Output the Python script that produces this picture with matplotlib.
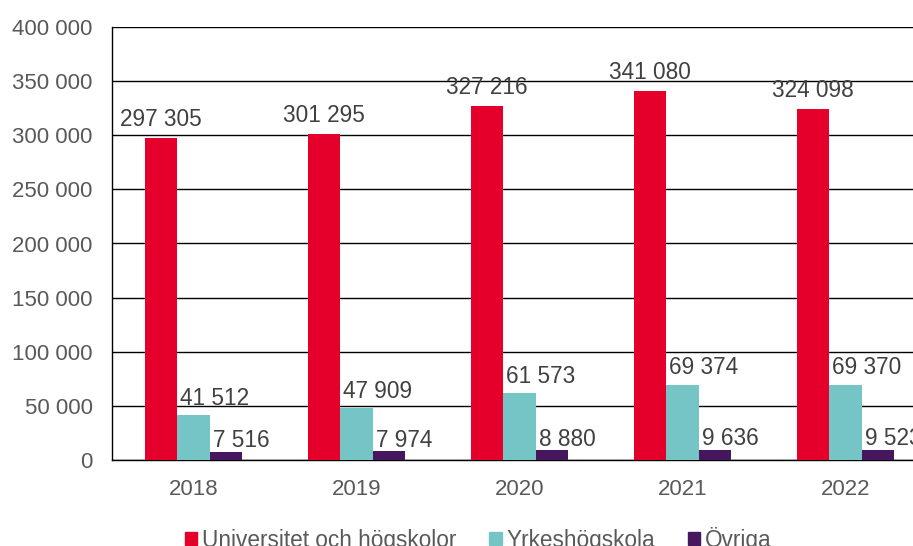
import matplotlib
matplotlib.use("Agg")
import matplotlib.pyplot as plt
from matplotlib.patches import Rectangle
import numpy as np

years = ["2018", "2019", "2020", "2021", "2022"]
univ = [297305, 301295, 327216, 341080, 324098]
yrkes = [41512, 47909, 61573, 69374, 69370]
ovriga = [7516, 7974, 8880, 9636, 9523]
series_names = ["Universitet och högskolor", "Yrkeshögskola", "Övriga"]
yticks = [0, 50000, 100000, 150000, 200000, 250000, 300000, 350000, 400000]

colors = ["#E4002B", "#76C5C6", "#46175E"]
text_color = "#595959"

plt.rcParams['font.family'] = ['Liberation Sans', 'DejaVu Sans']
plt.rcParams['font.size'] = 16

def fmt(v):
    return f"{v:,}".replace(",", " ")

fig = plt.figure(figsize=(9.13, 5.46), dpi=100)
W, H = 913, 546
left_px, right_px = 112, 112 + 5 * 163
top_px, bot_px = 27, 460
ax = fig.add_axes([left_px / W, (H - bot_px) / H, (right_px - left_px) / W, (bot_px - top_px) / H])

x = np.arange(len(years))
bw = 0.2
all_series = [univ, yrkes, ovriga]
offsets = [-bw, 0, bw]
label_dy = [8.5, 7.5, 3.5]
for s, vals in enumerate(all_series):
    ax.bar(x + offsets[s], vals, width=bw, color=colors[s], zorder=3)
    for i, v in enumerate(vals):
        if s == 0:
            ax.annotate(fmt(v), (x[i] + offsets[s], v), xytext=(0, label_dy[s]),
                        textcoords="offset points", ha="center", va="baseline",
                        color="#404040", fontsize=16.3)
        else:
            ax.annotate(fmt(v), (x[i] + offsets[s] - bw / 2, v), xytext=(2, label_dy[s]),
                        textcoords="offset points", ha="left", va="baseline",
                        color="#404040", fontsize=16.3)

ax.set_xlim(-0.5, len(years) - 0.5)
ax.set_ylim(0, 400000)
ax.set_yticks(yticks)
ax.set_yticklabels([fmt(v) for v in yticks], color=text_color)
ax.set_xticks(x)
ax.set_xticklabels(years, color=text_color)
ax.tick_params(axis='both', length=0)
ax.tick_params(axis='y', pad=14)
ax.tick_params(axis='x', pad=14)
ax.yaxis.grid(True, color="#000000", linewidth=1.0, zorder=0)
ax.set_axisbelow(True)
for side in ["top", "right"]:
    ax.spines[side].set_visible(False)
ax.spines["left"].set_color("#000000")
ax.spines["bottom"].set_color("#000000")
ax.spines["left"].set_linewidth(1.0)
ax.spines["bottom"].set_linewidth(1.0)

handles = [Rectangle((0, 0), 1, 1, color=c) for c in colors]
fig.legend(handles, series_names, loc="center", bbox_to_anchor=(478 / W, (H - 539) / H),
           ncol=3, frameon=False, handlelength=0.55, handleheight=0.55,
           handletextpad=0.2, columnspacing=1.45, labelcolor=text_color, fontsize=16.3)

fig.savefig("out.png", dpi=100)
